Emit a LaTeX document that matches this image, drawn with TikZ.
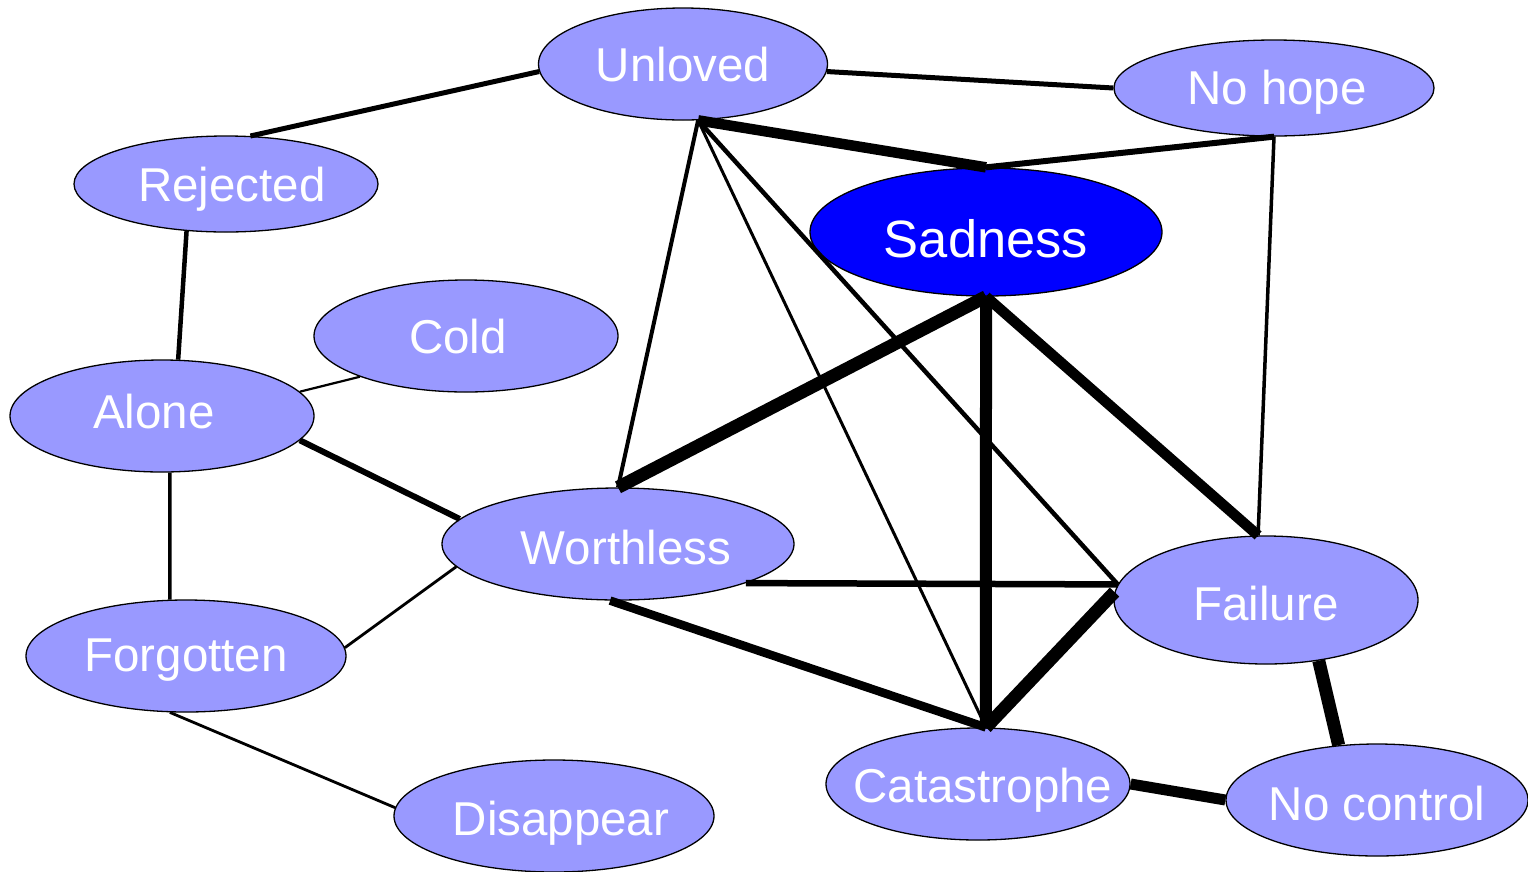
\documentclass[tikz,border=0pt]{standalone}
\usepackage{fontspec}
\setmainfont{Liberation Sans}
\usetikzlibrary{shapes.geometric}

\definecolor{nodefill}{RGB}{153,153,255}
\definecolor{hubfill}{RGB}{0,0,255}

\tikzset{
  concept/.style={ellipse, draw=black, line width=1.3pt, fill=nodefill,
    inner sep=0pt, text=white, font=\fontsize{47.5}{50}\selectfont,
    text depth=0pt, text height=34pt},
  hub/.style={concept, fill=hubfill, font=\fontsize{52.5}{55}\selectfont},
  % the baseline sits half of this below the ellipse centre
  drop/.style={text height=#1},
  tie/.style={line width=#1, line cap=butt, draw=black},
  faint/.style={tie=2.2pt},
  light/.style={tie=3.5pt},
  medium/.style={tie=5pt},
  strong/.style={tie=7.5pt},
  heavy/.style={tie=10.5pt},
  heaviest/.style={tie=13pt},
}
% centred label, moved sideways by #1
\newcommand{\lbl}[2][0pt]{\makebox[0pt]{\hspace*{#1}\hspace*{#1}#2}}

\begin{document}
\begin{tikzpicture}[x=1pt, y=-1pt]
\useasboundingbox (0,0) rectangle (1528,871);

% concepts
\node[concept, drop=34pt, minimum width=289pt, minimum height=112pt] (unloved)  at (683,64)  {\lbl{Unloved}};
\node[concept, drop=32pt, minimum width=320pt, minimum height=96pt]  (nohope)   at (1274,88) {\lbl[3pt]{No hope}};
\node[concept, drop=34pt, minimum width=304pt, minimum height=96pt]  (rejected) at (226,184) {\lbl[6pt]{Rejected}};
\node[hub,     drop=50pt, minimum width=352pt, minimum height=128pt] (sadness)  at (986,232) {\lbl{Sadness}};
\node[concept, drop=34pt, minimum width=304pt, minimum height=112pt] (cold)     at (466,336) {\lbl[-8pt]{Cold}};
\node[concept, drop=24pt, minimum width=304pt, minimum height=112pt] (alone)    at (162,416) {\lbl[-8pt]{Alone}};
\node[concept, drop=40pt, minimum width=352pt, minimum height=112pt] (worthless) at (618,544) {\lbl[8pt]{Worthless}};
\node[concept, drop=40pt, minimum width=304pt, minimum height=128pt] (failure)  at (1266,600) {\lbl{Failure}};
\node[concept, drop=30pt, minimum width=320pt, minimum height=112pt] (forgotten) at (186,656) {\lbl{Forgotten}};
\node[concept, drop=36pt, minimum width=304pt, minimum height=112pt] (catastrophe) at (978,784) {\lbl[5pt]{Catastrophe}};
\node[concept, drop=40pt, minimum width=302pt, minimum height=112pt] (nocontrol) at (1377,800) {\lbl{No control}};
\node[concept, drop=38pt, minimum width=320pt, minimum height=112pt] (disappear) at (554,816) {\lbl[7pt]{Disappear}};

% links
\draw[medium]   (unloved.183) -- (rejected.63);
\draw[medium]   (unloved.-3) -- (nohope.west);
\draw[heavy]    (unloved.-75) -- (sadness.north);
\draw[medium, tie=6pt] (nohope.south) -- (sadness.north);
\draw[light]    (nohope.south) -- (failure.97);
\draw[light, tie=4pt] (unloved.-75) -- (worthless.north);
\draw[light, tie=3pt] (unloved.-75) -- (catastrophe.82);
\draw[light, tie=4.5pt] (unloved.-75) -- (failure.174);
\draw[heaviest] (sadness.south) -- (worthless.north);
\draw[heaviest, tie=12pt] (sadness.south) -- (catastrophe.82);
\draw[heavy]    (sadness.south) -- (failure.97);
\draw[medium, tie=6.5pt] (worthless.-17) -- (failure.174);
\draw[strong, tie=8.5pt] (worthless.-98) -- (catastrophe.82);
\draw[heaviest] (catastrophe.82) -- (failure.177);
\draw[heaviest] (failure.-49) -- (nocontrol.125);
\draw[heavy, tie=11pt] (catastrophe.east) -- (nocontrol.west);
\draw[medium, tie=4.5pt] (rejected.-130) -- (alone.74);
\draw[faint]    (alone.10) -- (cold.-159);
\draw[medium, tie=6pt] (alone.-10) -- (worthless.171);
\draw[light]    (alone.-82) -- (forgotten.106);
\draw[faint, tie=2.8pt] (forgotten.3) -- (worthless.188);
\draw[faint, tie=2.8pt] (forgotten.-106) -- (disappear.177);
\end{tikzpicture}
\end{document}
